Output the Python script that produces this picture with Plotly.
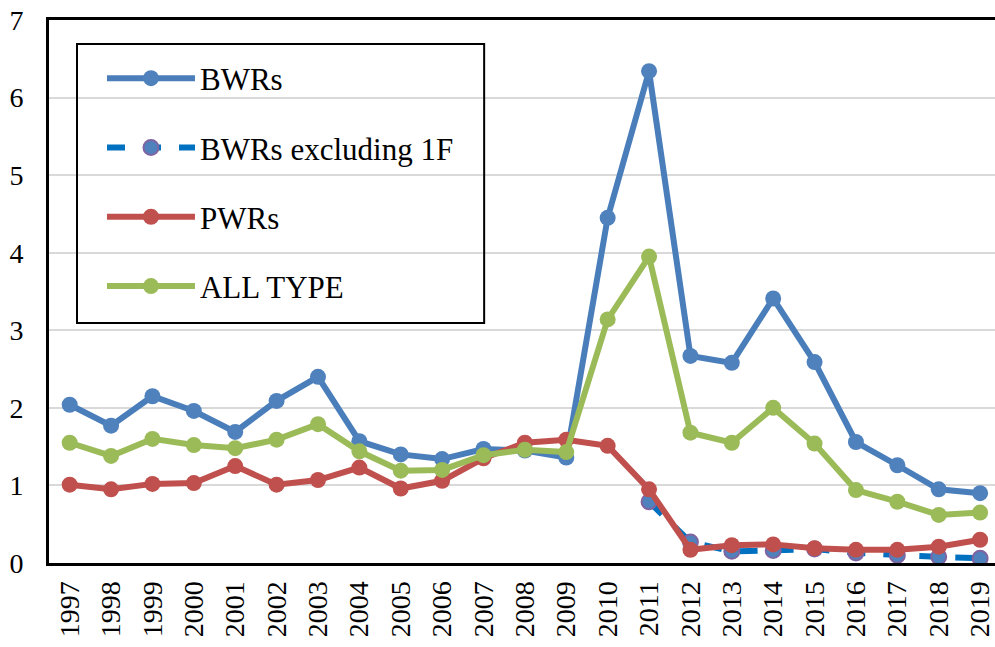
import plotly.graph_objects as go

years = [str(y) for y in range(1997, 2020)]

bwrs = [2.04, 1.77, 2.15, 1.96, 1.69, 2.09, 2.40, 1.57, 1.40, 1.34, 1.47, 1.45,
        1.36, 4.45, 6.34, 2.67, 2.58, 3.41, 2.59, 1.56, 1.26, 0.95, 0.90]
bwrs_ex1f = [None] * 14 + [0.79, 0.27, 0.15, 0.16, 0.18, 0.13, 0.10, 0.08, 0.06]
pwrs = [1.01, 0.95, 1.02, 1.03, 1.25, 1.01, 1.07, 1.23, 0.96, 1.06, 1.35, 1.55,
        1.59, 1.51, 0.95, 0.17, 0.23, 0.24, 0.19, 0.17, 0.17, 0.21, 0.30]
all_type = [1.55, 1.38, 1.60, 1.52, 1.48, 1.59, 1.79, 1.44, 1.19, 1.20, 1.39, 1.46,
            1.43, 3.14, 3.95, 1.68, 1.55, 2.00, 1.54, 0.94, 0.79, 0.62, 0.65]

FONT = "Liberation Serif"

fig = go.Figure()
fig.add_trace(go.Scatter(
    x=years, y=bwrs_ex1f, name="BWRs excluding 1F", legendgroup="b", legendrank=2,
    mode="lines+markers",
    line=dict(color="#0070C0", width=6, dash="dash"),
    marker=dict(size=15, color="#4F81BD", line=dict(color="#8064A2", width=2)),
))
fig.add_trace(go.Scatter(
    x=years, y=bwrs, name="BWRs", legendgroup="a", legendrank=1,
    mode="lines+markers",
    line=dict(color="#4A7EBB", width=6),
    marker=dict(size=16, color="#4F81BD"),
))
fig.add_trace(go.Scatter(
    x=years, y=pwrs, name="PWRs", legendgroup="c", legendrank=3,
    mode="lines+markers",
    line=dict(color="#C0504D", width=6),
    marker=dict(size=16, color="#C0504D"),
))
fig.add_trace(go.Scatter(
    x=years, y=all_type, name="ALL TYPE", legendgroup="d", legendrank=4,
    mode="lines+markers",
    line=dict(color="#9BBB59", width=6),
    marker=dict(size=16, color="#9BBB59"),
))

fig.update_layout(
    width=995, height=647,
    margin=dict(l=49, r=0, t=20, b=84),
    paper_bgcolor="white", plot_bgcolor="white",
    font=dict(family=FONT, size=28, color="black"),
    showlegend=True,
    legend=dict(
        x=0.056, y=0.942, xanchor="left", yanchor="top",
        bgcolor="rgba(0,0,0,0)", borderwidth=0,
        font=dict(family=FONT, size=31, color="black"),
        traceorder="grouped", tracegroupgap=26, itemwidth=88,
    ),
    shapes=[dict(
        type="rect", xref="paper", yref="paper",
        x0=0.0296, x1=0.46, y0=0.442, y1=0.9558,
        line=dict(color="black", width=2), fillcolor="rgba(0,0,0,0)",
    )],
)
fig.update_xaxes(
    type="category", range=[-0.5, 22.36], tickangle=-90, showgrid=False,
    automargin=False,
    showline=True, linecolor="black", linewidth=3, mirror=True,
    ticks="", tickfont=dict(family=FONT, size=28),
    ticklabelstandoff=4,
)
fig.update_yaxes(
    range=[0, 7], dtick=1, showgrid=True, gridcolor="#D9D9D9", gridwidth=2,
    showline=True, linecolor="black", linewidth=3, zeroline=False, automargin=False,
    ticks="", tickfont=dict(family=FONT, size=28),
    ticklabelstandoff=17,
)

fig.write_html(
    "out.html",
    config={"displayModeBar": False},
    post_script="document.body.style.margin='0';document.body.style.overflow='hidden';",
)
